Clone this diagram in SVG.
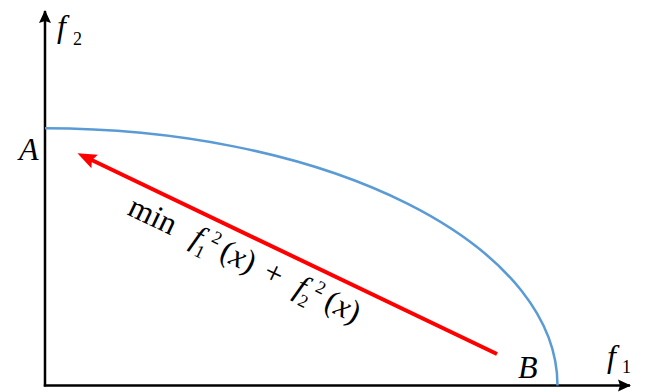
<svg xmlns="http://www.w3.org/2000/svg" width="664" height="392" viewBox="0 0 664 392">
<style>
text{font-family:'Liberation Serif','Times New Roman',serif;font-size:32px;fill:#000}
.i{font-style:italic}
.n{font-style:normal}
.s{font-size:18px}
.axis{stroke:#000;stroke-width:2.5;fill:none}
</style>
<defs>
<marker id="ah" markerUnits="userSpaceOnUse" viewBox="-14 -8 16 16" markerWidth="16" markerHeight="16" refX="0" refY="0" orient="auto">
<path d="M1,0 L-12,-6 L-10,0 L-12,6 Z" fill="#000"/>
</marker>
<marker id="rh" markerUnits="userSpaceOnUse" viewBox="-8 -10 26 20" markerWidth="26" markerHeight="20" refX="0" refY="0" orient="auto">
<path d="M14,0 L-5,-7.5 L-2,0 L-5,7.5 Z" fill="#ff0000"/>
</marker>
</defs>
<g id="axes">
<line class="axis" x1="45" y1="386.5" x2="45" y2="11" marker-end="url(#ah)"/>
<line class="axis" x1="43.8" y1="385.5" x2="630" y2="385.5" marker-end="url(#ah)"/>
</g>
<g id="front">
<path d="M45,128.3 A512.5,257.2 0 0 1 557.5,385.5" fill="none" stroke="#5b9bd5" stroke-width="2.5"/>
</g>
<g id="connectors">
<line x1="497" y1="354" x2="90.1" y2="159.3" stroke="#ff0000" stroke-width="4" marker-end="url(#rh)"/>
</g>
<g id="labels">
<text class="i" x="57" y="37">f<tspan class="s n" x="73" y="45">2</tspan></text>
<text class="i" x="19" y="160">A</text>
<text class="i" x="518" y="378">B</text>
<text class="i" x="607" y="367">f<tspan class="s n" x="622" y="373">1</tspan></text>
<text transform="translate(126,214) rotate(25.6)"><tspan x="0" y="0">min</tspan><tspan class="i" x="70" y="0">f</tspan><tspan class="s" x="78" y="8">1</tspan><tspan class="s" x="88" y="-12">2</tspan><tspan x="102" y="0">(</tspan><tspan class="i">x</tspan><tspan>)</tspan><tspan x="150" y="0">+</tspan><tspan class="i" x="185" y="0">f</tspan><tspan class="s" x="193" y="8">2</tspan><tspan class="s" x="203" y="-12">2</tspan><tspan x="218" y="0">(</tspan><tspan class="i">x</tspan><tspan>)</tspan></text>
</g>
</svg>
